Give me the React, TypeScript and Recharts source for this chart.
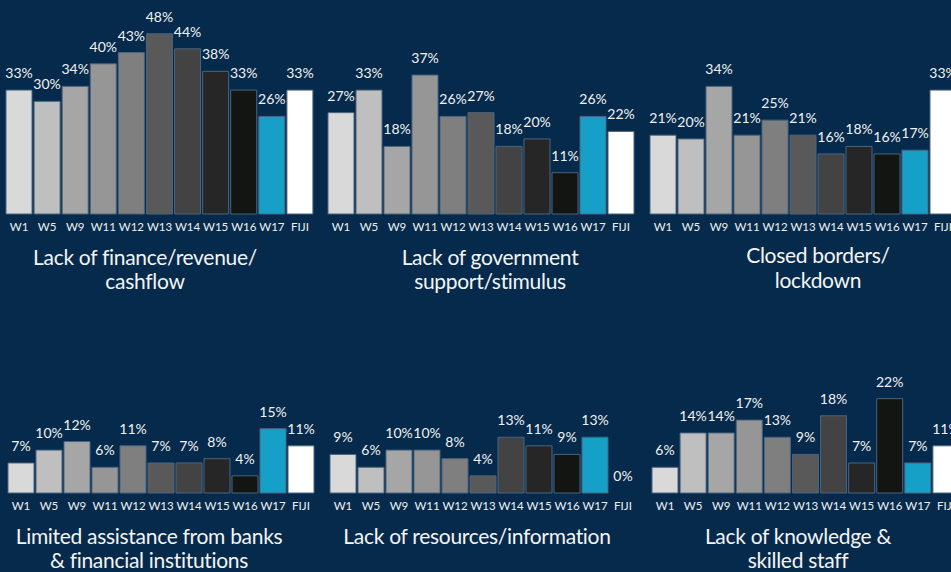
import React from 'react';
import { BarChart, Bar, XAxis, YAxis, Cell, LabelList } from 'recharts';

const waves = ['W1', 'W5', 'W9', 'W11', 'W12', 'W13', 'W14', 'W15', 'W16', 'W17', 'FIJI'];
const barColors = ['#d9d9d9', '#bfbfbf', '#a6a6a6', '#969696', '#7f7f7f', '#595959', '#434343', '#262626', '#131512', '#17a0c7', '#ffffff'];

const financeValues = [33, 30, 34, 40, 43, 48, 44, 38, 33, 26, 33];
const governmentValues = [27, 33, 18, 37, 26, 27, 18, 20, 11, 26, 22];
const bordersValues = [21, 20, 34, 21, 25, 21, 16, 18, 16, 17, 33];
const banksValues = [7, 10, 12, 6, 11, 7, 7, 8, 4, 15, 11];
const resourcesValues = [9, 6, 10, 10, 8, 4, 13, 11, 9, 13, 0];
const knowledgeValues = [6, 14, 14, 17, 13, 9, 18, 7, 22, 7, 11];

const financeTitle = ['Lack of finance/revenue/', 'cashflow'];
const governmentTitle = ['Lack of government', 'support/stimulus'];
const bordersTitle = ['Closed borders/', 'lockdown'];
const banksTitle = ['Limited assistance from banks', '& financial institutions'];
const resourcesTitle = ['Lack of resources/information'];
const knowledgeTitle = ['Lack of knowledge &', 'skilled staff'];

const BG = '#052a4b';
const FONT = 'Lato, "Open Sans", sans-serif';

type PanelProps = {
  values: number[];
  title: string[];
  left: number;
  top: number;
  width: number;
  height: number;
  max: number;
  titleCenter: number;
  titleTop: number;
  lineHeight: number;
};

function ValueLabel(props: any) {
  const { x, y, width, value } = props;
  return (
    <text
      x={Number(x) + Number(width) / 2}
      y={Number(y) - 12}
      textAnchor="middle"
      fill="#f2f2f2"
      fontSize={14}
      fontFamily={FONT}
    >
      {`${value}%`}
    </text>
  );
}

function Panel({ values, title, left, top, width, height, max, titleCenter, titleTop, lineHeight }: PanelProps) {
  const data = waves.map((w, i) => ({ wave: w, value: values[i] }));
  return (
    <>
      <div style={{ position: 'absolute', left, top, width, height }}>
        <BarChart
          width={width}
          height={height}
          data={data}
          margin={{ top: 0, right: 0, bottom: 0, left: 0 }}
          barCategoryGap={1}
        >
          <XAxis
            dataKey="wave"
            height={26}
            axisLine={false}
            tickLine={false}
            interval={0}
            tickMargin={3}
            tick={{ fill: '#eef0f2', fontSize: 11.5, fontFamily: FONT }}
          />
          <YAxis hide domain={[0, max]} />
          <Bar
            dataKey="value"
            isAnimationActive={false}
            strokeWidth={1}
            minPointSize={(v: any) => (v === 0 ? 0.001 : 0)}
          >
            {data.map((d, i) => (
              <Cell key={d.wave} fill={barColors[i]} stroke={d.value === 0 ? 'none' : '#4a6480'} />
            ))}
            <LabelList dataKey="value" content={ValueLabel} />
          </Bar>
        </BarChart>
      </div>
      <div
        style={{
          position: 'absolute',
          left: titleCenter - 200,
          top: titleTop,
          width: 400,
          textAlign: 'center',
          color: '#f4f4f4',
          fontFamily: FONT,
          fontSize: 21,
          lineHeight: `${lineHeight}px`,
          letterSpacing: -0.3,
          whiteSpace: 'nowrap',
        }}
      >
        {title.map((t, i) => (
          <div key={i}>{t}</div>
        ))}
      </div>
    </>
  );
}

export default function App() {
  return (
    <div
      style={{
        position: 'absolute',
        left: 0,
        top: 0,
        width: 951,
        height: 572,
        overflow: 'hidden',
        background: BG,
      }}
    >
      <Panel values={financeValues} title={financeTitle} left={5} top={0} width={309} height={240} max={57} titleCenter={145} titleTop={245} lineHeight={24} />
      <Panel values={governmentValues} title={governmentTitle} left={327} top={0} width={308} height={240} max={57} titleCenter={490} titleTop={245} lineHeight={24} />
      <Panel values={bordersValues} title={bordersTitle} left={649} top={0} width={308} height={240} max={57} titleCenter={818} titleTop={242} lineHeight={25} />
      <Panel values={banksValues} title={banksTitle} left={7} top={300} width={308} height={219} max={45} titleCenter={149} titleTop={524} lineHeight={24} />
      <Panel values={resourcesValues} title={resourcesTitle} left={329} top={300} width={308} height={219} max={45} titleCenter={477} titleTop={524} lineHeight={24} />
      <Panel values={knowledgeValues} title={knowledgeTitle} left={651} top={300} width={309} height={219} max={45} titleCenter={798} titleTop={524} lineHeight={24} />
    </div>
  );
}
